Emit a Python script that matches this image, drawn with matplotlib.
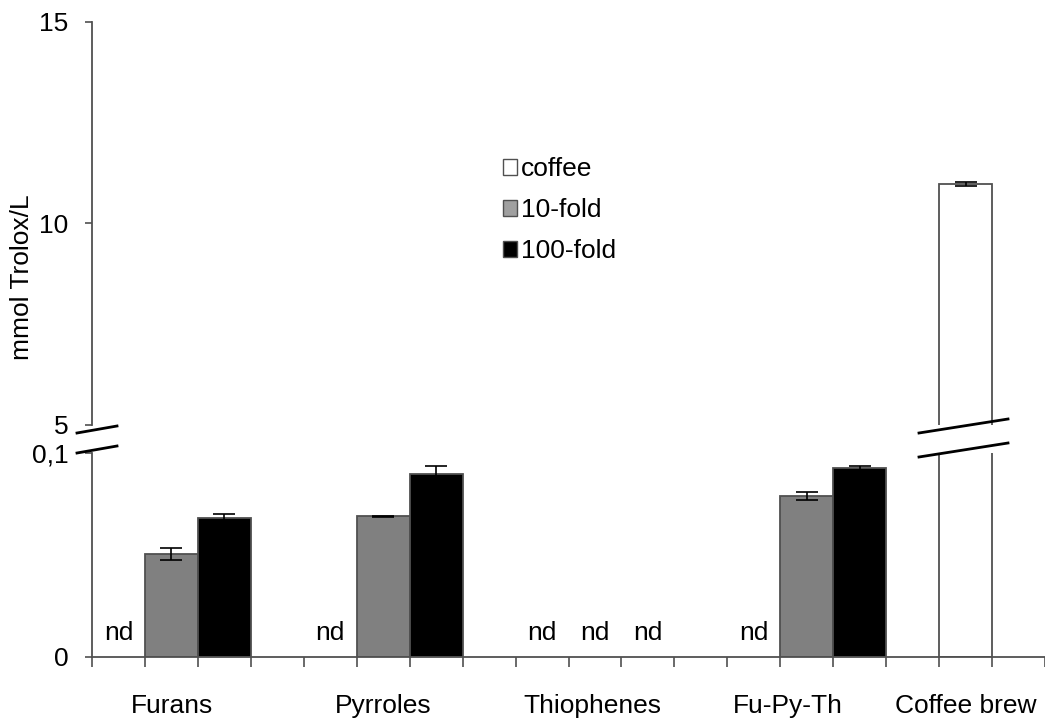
import matplotlib
matplotlib.use('Agg')
import matplotlib.pyplot as plt
from matplotlib.patches import Patch
from matplotlib.lines import Line2D

plt.rcParams['font.family'] = ['Liberation Sans', 'DejaVu Sans']

groups = ['Furans', 'Pyrroles', 'Thiophenes', 'Fu-Py-Th', 'Coffee brew']
# slot index of the coffee / 10-fold / 100-fold bar for each group
slots = [[0, 1, 2], [4, 5, 6], [8, 9, 10], [12, 13, 14], [16, None, None]]
coffee = [None, None, None, None, 10.98]
coffee_err = [None, None, None, None, 0.05]
tenfold = [0.0505, 0.0690, None, 0.0790, None]
tenfold_err = [0.0030, 0.0003, None, 0.0020, None]
hundred = [0.0680, 0.0897, None, 0.0926, None]
hundred_err = [0.0020, 0.0040, None, 0.0010, None]
label_pos = [1.51, 5.5, 9.45, 13.15, 16.5]

n_slots = 18
edge = '#505050'
fs = 19

fig = plt.figure(figsize=(10.45, 7.24), dpi=100)
ax_hi = fig.add_axes([92 / 1045, 1 - 425 / 724, 953 / 1045, 403 / 724])
ax_lo = fig.add_axes([92 / 1045, 1 - 657 / 724, 953 / 1045, 204 / 724])

series = [
    (coffee, coffee_err, 'white', 0),
    (tenfold, tenfold_err, '#808080', 1),
    (hundred, hundred_err, 'black', 2),
]

for vals, errs, color, k in series:
    for g, v in enumerate(vals):
        s = slots[g][k]
        if s is None:
            continue
        x = s + 0.5
        if v is None:
            ax_lo.text(x, 0.0118, 'nd', ha='center', va='center', fontsize=fs)
            continue
        for ax in (ax_lo, ax_hi):
            ax.bar(x, v, width=1.0, color=color, edgecolor=edge, linewidth=1.3,
                   zorder=2)
            ax.errorbar(x, v, yerr=errs[g], fmt='none', ecolor='black',
                        elinewidth=1.2, capsize=8, capthick=1.2, zorder=3)

for ax in (ax_lo, ax_hi):
    ax.set_xlim(0, n_slots)
    for side in ('top', 'right'):
        ax.spines[side].set_visible(False)
    ax.spines['left'].set_color(edge)
    ax.spines['left'].set_linewidth(1.3)
    ax.tick_params(axis='y', direction='out', length=5, width=1.2,
                   color=edge, labelsize=fs, pad=12)

ax_hi.set_ylim(5, 15)
ax_hi.set_yticks([5, 10, 15])
ax_hi.spines['bottom'].set_visible(False)
ax_hi.set_xticks([])

ax_lo.set_ylim(0, 0.1)
ax_lo.set_yticks([0, 0.1])
ax_lo.set_yticklabels(['0', '0,1'])
ax_lo.spines['bottom'].set_color(edge)
ax_lo.spines['bottom'].set_linewidth(1.3)
ax_lo.set_xticks(range(n_slots + 1))
ax_lo.set_xticklabels([])
ax_lo.tick_params(axis='x', direction='out', length=7, width=1.2, color=edge)

for name, pos in zip(groups, label_pos):
    ax_lo.text(pos, -0.024, name, ha='center', va='center', fontsize=fs)

fig.text(22 / 1045, 1 - 277 / 724, 'mmol Trolox/L', rotation=90,
         ha='center', va='center', fontsize=fs)

# axis-break slashes on the y axis and on the coffee bar
def px(x, y):
    return x / 1045, 1 - y / 724

for (x0, y0), (x1, y1) in [((77, 433), (117, 426)), ((77, 453), (117, 446)),
                           ((919, 433), (1008, 419)), ((919, 457), (1008, 443))]:
    fig.add_artist(Line2D([px(x0, y0)[0], px(x1, y1)[0]],
                          [px(x0, y0)[1], px(x1, y1)[1]],
                          color='black', linewidth=2.0))

handles = [Patch(facecolor='white', edgecolor=edge, label='coffee'),
           Patch(facecolor='#a0a0a0', edgecolor=edge, label='10-fold'),
           Patch(facecolor='black', edgecolor=edge, label='100-fold')]
ax_hi.legend(handles=handles, loc='upper left', bbox_to_anchor=(0.431, 0.665),
             frameon=False, fontsize=fs, handlelength=0.55, handleheight=0.55,
             handletextpad=0.15, labelspacing=0.65, borderaxespad=0,
             borderpad=0)

fig.savefig('out.png', dpi=100)
